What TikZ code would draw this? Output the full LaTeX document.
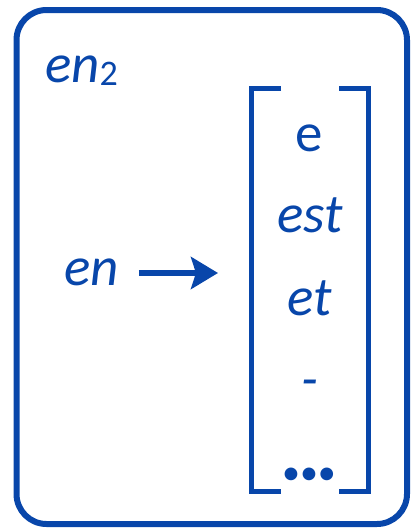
\documentclass[tikz,border=0pt]{standalone}
\usepackage{fontspec}
\setmainfont{Carlito}
\usetikzlibrary{arrows.meta, positioning}
\definecolor{cblue}{HTML}{0846AA}
\tikzset{
  every picture/.style={x=1pt, y=-1pt},
  frame/.style={draw=cblue, line width=6pt, rounded corners=30pt},
  bracket/.style={draw=cblue, line width=5pt},
  word/.style={text=cblue, font=\fontsize{55}{66}\selectfont\itshape, anchor=base, inner sep=0pt},
  arrow/.style={-{Stealth[length=27pt, width=32pt, inset=5pt]}, draw=cblue, line width=5.5pt},
}

\begin{document}
\begin{tikzpicture}
  \useasboundingbox (0,0) rectangle (410,530);
  % frame
  \draw[frame] (16.5,10) rectangle (407,524);
  \node[word, anchor=base west] (title) at (45,82) {en\raisebox{-3pt}{\upshape\fontsize{36}{40}\selectfont 2}};
  % bracket
  \draw[bracket] (281,88.5) -- (251.5,88.5) -- (251.5,491.5) -- (281,491.5);
  \draw[bracket] (339,88.5) -- (368.5,88.5) -- (368.5,491.5) -- (339,491.5);
  \node[word, font=\fontsize{55}{66}\selectfont\upshape] (w1) at (309,151) {e};
  \node[word] (w2) at (310,232) {est};
  \node[word] (w3) at (310,315) {et};
  \node[word] (w4) at (310,397) {-};
  \node[word, font=\fontsize{36}{40}\selectfont\upshape] (w5) at (309,484) {•••};
  % input
  \node[word, anchor=base west] (en) at (64,285) {en};
  \coordinate (tip) at (218,273);
  \draw[arrow] (en.east |- tip) ++(20,0) -- (tip);
\end{tikzpicture}
\end{document}
